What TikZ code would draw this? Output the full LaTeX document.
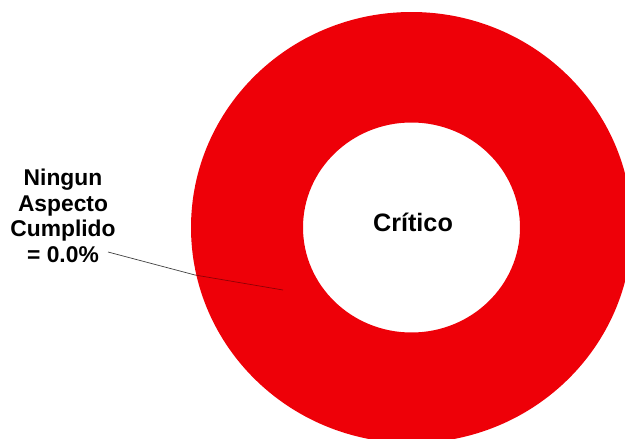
\documentclass[tikz,border=0pt]{standalone}
\usepackage{fontspec}
\setmainfont{Liberation Sans}
\definecolor{ringred}{RGB}{238,0,8}
\tikzset{
  lbl/.style={font=\bfseries\fontsize{22.8}{25.6}\selectfont, align=center, inner sep=0pt},
  leader/.style={line width=0.7pt}
}
\begin{document}
\begin{tikzpicture}[x=1pt,y=-1pt]
  \useasboundingbox (0,0) rectangle (625,439);
  \fill [ringred, even odd rule] (411.5,227.5) ellipse [x radius=220.5pt, y radius=215.5pt]
        (411.5,227.5) ellipse [x radius=108.5pt, y radius=105pt];

  \node [lbl] (critico) at (413,222) {\fontsize{25.2}{28}\selectfont Crítico};
  \node [lbl] (ningun) at (63,215.7) {Ningun\\Aspecto\\Cumplido\\= 0.0\%};

  \coordinate (lblend) at (108,252);
  \coordinate (ringedge) at (195,275);
  \coordinate (slice) at (283,290);
  \draw [leader, color=black!75] (lblend) -- (ringedge);
  \draw [leader, color=ringred!60!black] (ringedge) -- (slice);
\end{tikzpicture}
\end{document}
